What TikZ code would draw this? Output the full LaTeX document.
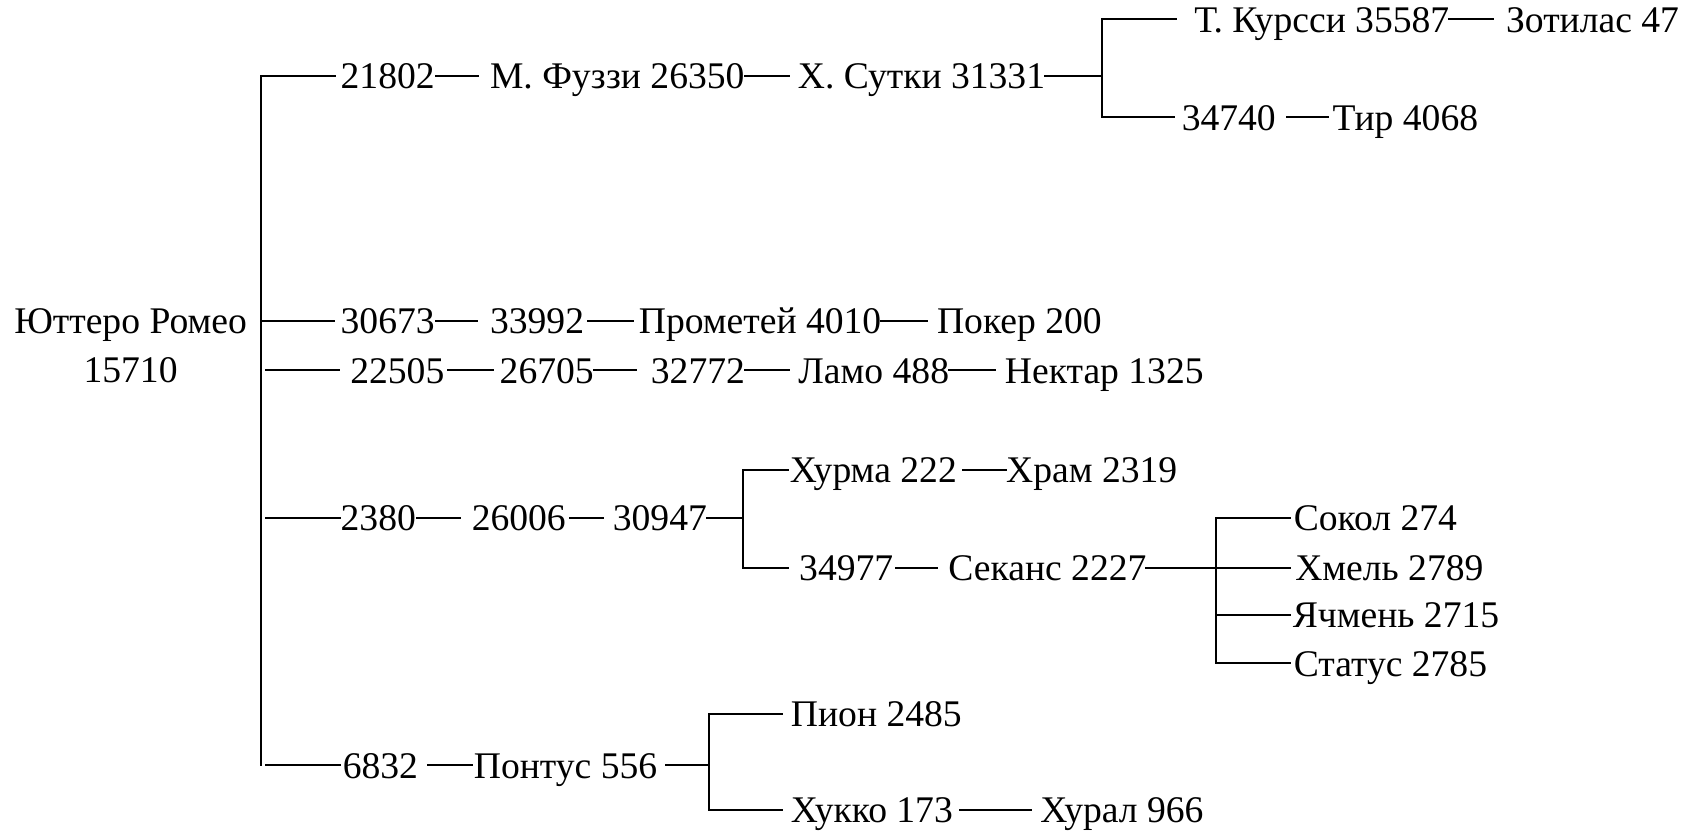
\documentclass[tikz,border=0pt]{standalone}
\usepackage{fontspec}
\setmainfont{Liberation Serif}
\begin{document}
\begin{tikzpicture}[x=1pt,y=-1pt,
  lbl/.style={inner sep=0pt, outer sep=0pt, text height=24pt, text depth=0pt, anchor=west, font=\fontsize{35}{42}\selectfont},
  conn/.style={line width=1.8pt, line cap=rect}]
\useasboundingbox (0,0) rectangle (1568,778);
% root
\node[inner sep=0pt, anchor=base, font=\fontsize{35}{45.5}\selectfont] (root) at (121.5,310)
  {\begin{tabular}[t]{@{}c@{}}Юттеро Ромео\\15710\end{tabular}};
% row 1
\node[lbl] (a1) at (317,70.7) {21802};
\node[lbl] (a2) at (456,70.7) {М. Фуззи 26350};
\node[lbl] (a3) at (742.5,70.7) {Х. Сутки 31331};
\node[lbl] (a4) at (1111.5,18) {Т. Курсси 35587};
\node[lbl] (a5) at (1401.5,18) {Зотилас 47};
\node[lbl] (a6) at (1099.7,109.2) {34740};
\node[lbl] (a7) at (1240,109.2) {Тир 4068};
% row 2
\node[lbl] (b1) at (317,298.5) {30673};
\node[lbl] (b2) at (456,298.5) {33992};
\node[lbl] (b3) at (594.5,298.5) {Прометей 4010};
\node[lbl] (b4) at (872,298.5) {Покер 200};
% row 3
\node[lbl] (c1) at (326,344.5) {22505};
\node[lbl] (c2) at (465,344.5) {26705};
\node[lbl] (c3) at (605.7,344.5) {32772};
\node[lbl] (c4) at (743,344.5) {Ламо 488};
\node[lbl] (c5) at (935.2,344.5) {Нектар 1325};
% row 4
\node[lbl] (d1) at (317,481.7) {2380};
\node[lbl] (d2) at (439,481.7) {26006};
\node[lbl] (d3) at (570.3,481.7) {30947};
\node[lbl] (d4) at (735,437.4) {Хурма 222};
\node[lbl] (d5) at (936.3,437.4) {Храм 2319};
\node[lbl] (d6) at (743.7,528.3) {34977};
\node[lbl] (d7) at (882.5,528.3) {Секанс 2227};
\node[lbl] (d8) at (1204,481.7) {Сокол 274};
\node[lbl] (d9) at (1205.3,528.3) {Хмель 2789};
\node[lbl] (d10) at (1203,572.3) {Ячмень 2715};
\node[lbl] (d11) at (1204,617.3) {Статус 2785};
% row 5
\node[lbl] (e1) at (319,712.3) {6832};
\node[lbl] (e2) at (441,712.3) {Понтус 556};
\node[lbl] (e3) at (736,664.4) {Пион 2485};
\node[lbl] (e4) at (736,753.8) {Хукко 173};
\node[lbl] (e5) at (968.2,753.8) {Хурал 966};
% trunk and forks
\coordinate (t1) at (243,70.7);
\coordinate (t2) at (243,298.5);
\coordinate (t3) at (243,344.5);
\coordinate (t4) at (243,481.7);
\coordinate (t5) at (243,712.3);
\coordinate (f1) at (1025.8,70.7);
\coordinate (f1a) at (1025.8,18);
\coordinate (f1b) at (1025.8,109.2);
\coordinate (f2) at (691.1,481.7);
\coordinate (f2a) at (691.1,437.4);
\coordinate (f2b) at (691.1,528.3);
\coordinate (f3) at (1131.2,528.3);
\coordinate (f3a) at (1131.2,481.7);
\coordinate (f3c) at (1131.2,572.3);
\coordinate (f3d) at (1131.2,617.3);
\coordinate (f4) at (660.1,712.3);
\coordinate (f4a) at (660.1,664.4);
\coordinate (f4b) at (660.1,753.8);
\draw[conn] (t1) -- (t5);
% row 1
\draw[conn, shorten >=5pt] (t1) -- (a1.west);
\draw[conn, shorten <=1pt, shorten >=11pt] (a1.east) -- (a2.west);
\draw[conn, shorten >=8.5pt] (a2.east) -- (a3.west);
\draw[conn] (a3.east) -- (f1);
\draw[conn] (f1a) -- (f1b);
\draw[conn, shorten >=17pt] (f1a) -- (a4.west);
\draw[conn, shorten >=12.5pt] (a4.east) -- (a5.west);
\draw[conn, shorten >=7.5pt] (f1b) -- (a6.west);
\draw[conn, shorten <=10pt, shorten >=4.5pt] (a6.east) -- (a7.west);
% row 2
\draw[conn, shorten >=6pt] (t2) -- (b1.west);
\draw[conn, shorten <=1.5pt, shorten >=12pt] (b1.east) -- (b2.west);
\draw[conn, shorten <=3.5pt, shorten >=5pt] (b2.east) -- (b3.west);
\draw[conn, shorten >=9.5pt] (b3.east) -- (b4.west);
% row 3
\draw[conn, shorten <=4.5pt, shorten >=10.5pt] (t3) -- (c1.west);
\draw[conn, shorten <=3.5pt, shorten >=6.5pt] (c1.east) -- (c2.west);
\draw[conn, shorten >=13.5pt] (c2.east) -- (c3.west);
\draw[conn, shorten >=8.5pt] (c3.east) -- (c4.west);
\draw[conn, shorten >=9.5pt] (c4.east) -- (c5.west);
% row 4
\draw[conn, shorten <=4.5pt, shorten >=1pt] (t4) -- (d1.west);
\draw[conn, shorten <=1pt, shorten >=10.5pt] (d1.east) -- (d2.west);
\draw[conn, shorten <=4.3pt, shorten >=9pt] (d2.east) -- (d3.west);
\draw[conn] (d3.east) -- (f2);
\draw[conn] (f2a) -- (f2b);
\draw[conn, shorten >=1.5pt] (f2a) -- (d4.west);
\draw[conn, shorten <=5.4pt] (d4.east) -- (d5.west);
\draw[conn, shorten >=10.5pt] (f2b) -- (d6.west);
\draw[conn, shorten <=2.5pt, shorten >=10.5pt] (d6.east) -- (d7.west);
\draw[conn] (d7.east) -- (f3);
\draw[conn] (f3a) -- (f3d);
\draw[conn, shorten >=3.5pt] (f3a) -- (d8.west);
\draw[conn, shorten >=4.5pt] (f3) -- (d9.west);
\draw[conn, shorten >=2.5pt] (f3c) -- (d10.west);
\draw[conn, shorten >=3.5pt] (f3d) -- (d11.west);
% row 5
\draw[conn, shorten <=4.5pt, shorten >=2.5pt] (t5) -- (e1.west);
\draw[conn, shorten <=9.5pt, shorten >=1.5pt] (e1.east) -- (e2.west);
\draw[conn, shorten <=8pt] (e2.east) -- (f4);
\draw[conn] (f4a) -- (f4b);
\draw[conn, shorten >=8pt] (f4a) -- (e3.west);
\draw[conn, shorten >=8pt] (f4b) -- (e4.west);
\draw[conn, shorten <=6.4pt, shorten >=8.5pt] (e4.east) -- (e5.west);
\end{tikzpicture}
\end{document}
